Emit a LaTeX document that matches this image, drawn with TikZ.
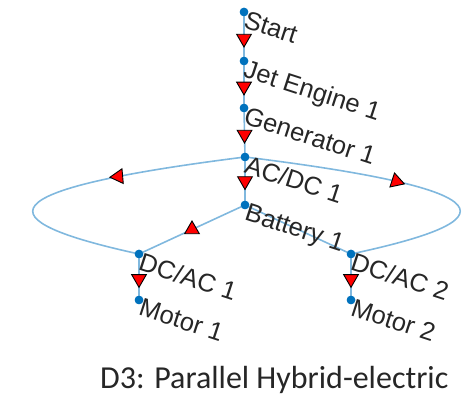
\documentclass[tikz,border=0pt]{standalone}
\usepackage{fontspec}
\setmainfont{Liberation Sans}
\newfontfamily\titlefont{Carlito}
\usetikzlibrary{shapes.geometric}

\definecolor{nodeblue}{HTML}{0072BD}
\definecolor{edgeblue}{HTML}{80B8DE}

\tikzset{
  vertex/.style={circle, fill=nodeblue, inner sep=0pt, minimum size=8.5pt},
  edge/.style={draw=edgeblue, line width=1.6pt},
  tip/.style={regular polygon, regular polygon sides=3, fill=red, draw=black,
    line width=0.9pt, inner sep=0pt, outer sep=0pt, minimum size=17pt},
  tipdown/.style={tip, rotate=180},
  tipup/.style={tip},
  lbl/.style={anchor=north west, inner sep=0pt, rotate=-18,
    font=\fontsize{25.5}{25.5}\selectfont, text=black!85},
}

\begin{document}
\begin{tikzpicture}[x=1pt, y=-1pt]
\useasboundingbox (0,0) rectangle (475,401);

% graph vertices
\node[vertex] (start)  at (244,12)  {};
\node[vertex] (jet)    at (244,61)  {};
\node[vertex] (gen)    at (244,108) {};
\node[vertex] (acdc)   at (245,157) {};
\node[vertex] (batt)   at (245,205) {};
\node[vertex] (dcac1)  at (139,254) {};
\node[vertex] (dcac2)  at (351,254) {};
\node[vertex] (motor1) at (139,300) {};
\node[vertex] (motor2) at (351,300) {};

% edges
\path[edge] (start.center) -- (jet.center);
\path[edge] (jet.center) -- (gen.center);
\path[edge] (gen.center) -- (acdc.center);
\path[edge] (acdc.center) -- (batt.center);
\path[edge] (batt.center) -- (dcac1.center);
\path[edge] (batt.center) -- (dcac2.center);
\path[edge] (dcac1.center) -- (motor1.center);
\path[edge] (dcac2.center) -- (motor2.center);
\path[edge] (acdc.center) .. controls (-17,190) and (-17,220) .. (dcac1.center);
\path[edge] (acdc.center) .. controls (511,190) and (511,220) .. (dcac2.center);

% redraw vertices on top of the edges
\foreach \v in {start,jet,gen,acdc,batt,dcac1,dcac2,motor1,motor2}
  \fill[nodeblue] (\v) circle (4.25pt);

% direction markers
\path (start) -- node[tipdown, pos=0.55] (a1) {} (jet);
\path (jet) -- node[tipdown, pos=0.55] (a2) {} (gen);
\path (gen) -- node[tipdown, pos=0.55] (a3) {} (acdc);
\path (acdc) -- node[tipdown, pos=0.5] (a4) {} (batt);
\path (batt) -- node[tipup, pos=0.5] (a5) {} (dcac1);
\path (dcac1) -- node[tipdown, pos=0.55] (a6) {} (motor1);
\path (dcac2) -- node[tipdown, pos=0.55] (a7) {} (motor2);
\path (acdc.center) .. controls (-17,190) and (-17,220) .. node[tip, rotate=-25, pos=0.2] (a8) {} (dcac1.center);
\path (acdc.center) .. controls (511,190) and (511,220) .. node[tip, rotate=12, pos=0.25] (a9) {} (dcac2.center);

% vertex labels
\node[lbl] (lstart)  at ([xshift=4pt, yshift=2pt]start)  {Start};
\node[lbl] (ljet)    at ([xshift=4pt, yshift=2pt]jet)    {Jet Engine 1};
\node[lbl] (lgen)    at ([xshift=4pt, yshift=2pt]gen)    {Generator 1};
\node[lbl] (lacdc)   at ([xshift=4pt, yshift=2pt]acdc)   {AC/DC 1};
\node[lbl] (lbatt)   at ([xshift=4pt, yshift=2pt]batt)   {Battery 1};
\node[lbl] (ldcac1)  at ([xshift=4pt, yshift=2pt]dcac1)  {DC/AC 1};
\node[lbl] (ldcac2)  at ([xshift=4pt, yshift=2pt]dcac2)  {DC/AC 2};
\node[lbl] (lmotor1) at ([xshift=4pt, yshift=2pt]motor1) {Motor 1};
\node[lbl] (lmotor2) at ([xshift=4pt, yshift=2pt]motor2) {Motor 2};

% caption
\node[anchor=base west, inner sep=0pt, font=\titlefont\fontsize{32}{32}\selectfont, text=black!85]
  (title) at (100,389) {D3: Parallel Hybrid-electric};
\end{tikzpicture}
\end{document}
